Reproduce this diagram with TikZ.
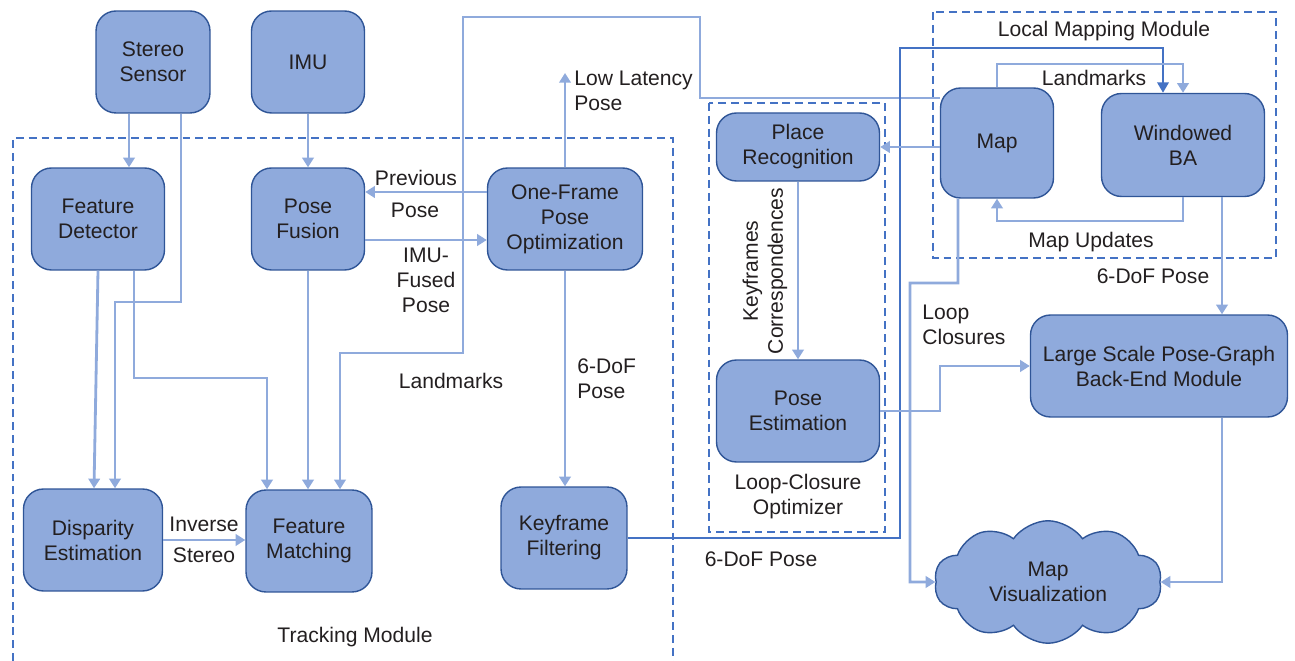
\documentclass[tikz,border=0pt]{standalone}
\usepackage{fontspec}
\setmainfont{Liberation Sans}
\usetikzlibrary{arrows.meta,shapes.symbols}
\definecolor{cFill}{HTML}{8FAADC}
\definecolor{cEdge}{HTML}{2F5597}
\definecolor{cFlow}{HTML}{8FAADC}
\definecolor{cModule}{HTML}{4472C4}
\definecolor{cText}{HTML}{231F20}

\begin{document}
\begin{tikzpicture}[x=0.02cm, y=-0.02cm,
    blk/.style={draw=cEdge, line width=0.8pt, fill=cFill, rounded corners=0.4cm, minimum height=2.04cm,
        align=center, inner sep=2pt, text=cText, font=\fontsize{12}{14.2}\selectfont},
    vis/.style={cloud, cloud puffs=10, cloud puff arc=110, cloud ignores aspect, draw=cEdge, line width=0.8pt, fill=cFill,
        minimum width=4.55cm, minimum height=2.45cm, inner sep=0pt, align=center, text=cText, font=\fontsize{12}{14.2}\selectfont},
    lbl/.style={inner sep=0pt, align=center, text=cText, font=\fontsize{12}{14.2}\selectfont},
    flow/.style={draw=cFlow, line width=1.6pt, -{Triangle[length=5.5pt, width=6.5pt]}},
    main/.style={draw=cModule, line width=1.4pt, -{Triangle[length=6pt, width=6.5pt]}},
    module/.style={draw=cModule, line width=0.8pt, dash pattern=on 4.5pt off 2.8pt}
]
\useasboundingbox (0,0) rectangle (1295,661);

\draw[module] (13,661) -- (13,138) -- (673,138) -- (673,661);
\draw[module] (709,103) rectangle (885,532);
\draw[module] (933,12) rectangle (1276,258);

\node[blk, minimum width=2.28cm] (stereo) at (153,62) {Stereo\\Sensor};
\node[blk, minimum width=2.26cm] (imu) at (308,62) {IMU};
\node[blk, minimum width=2.66cm] (fdet) at (98,219) {Feature\\Detector};
\node[blk, minimum width=2.26cm] (pfus) at (308,219) {Pose\\Fusion};
\node[blk, minimum width=3.10cm] (ofpo) at (565,219) {One-Frame\\Pose\\Optimization};
\node[blk, minimum width=2.78cm] (disp) at (93,540) {Disparity\\Estimation};
\node[blk, minimum width=2.52cm] (fmat) at (309,541) {Feature\\Matching};
\node[blk, minimum width=2.52cm] (kff) at (564,538) {Keyframe\\Filtering};
\node[blk, minimum width=3.26cm, minimum height=1.36cm] (prec) at (798,147) {Place\\Recognition};
\node[blk, minimum width=3.26cm] (pest) at (798,411) {Pose\\Estimation};
\node[blk, minimum width=2.26cm, minimum height=2.2cm] (map) at (997,143) {Map};
\node[blk, minimum width=3.26cm, minimum height=2.06cm] (wba) at (1183,145) {Windowed\\BA};
\node[blk, minimum width=5.14cm] (lspg) at (1159,366) {Large Scale Pose-Graph\\Back-End Module};
\node[vis] (mvis) at (1048,582) {Map\\Visualization};
\coordinate (llp) at (565,73);

\node[lbl] (trk) at (355,637) {Tracking Module};
\node[lbl] (lco) at (798,497) {Loop-Closure\\Optimizer};
\node[lbl] (lmm) at (1104,31) {Local Mapping Module};
\node[lbl] (prev1) at (416,178) {Previous};
\node[lbl] (prev2) at (415,210) {Pose};
\node[lbl] (imuf) at (426,280) {IMU-\\Fused\\Pose};
\node[lbl, anchor=west, align=left] (llpl) at (574,91) {Low Latency\\Pose};
\node[lbl, anchor=west, align=left] (dof1) at (577,379) {6-DoF\\Pose};
\node[lbl] (lmk1) at (451,381) {Landmarks};
\node[lbl] (inv1) at (204,524) {Inverse};
\node[lbl] (inv2) at (204,555) {Stereo};
\node[lbl, rotate=90] (kfc) at (765,271) {Keyframes\\Correspondences};
\node[lbl] (dof2) at (761,559) {6-DoF Pose};
\node[lbl] (lmk2) at (1094,78) {Landmarks};
\node[lbl] (mupd) at (1091,242) {Map Updates};
\node[lbl] (dof3) at (1153,276) {6-DoF Pose};
\node[lbl, anchor=west, align=left] (lpc) at (922,325) {Loop\\Closures};

\draw[flow] (stereo.south -| 129,0) -- (fdet.north -| 129,0);
\draw[flow] (stereo.south -| 181,0) -- (181,302) -| (disp.north -| 115,0);
\draw[flow] (fdet.south) -- (disp.north -| 94,0);
\draw[flow] (fdet.south -| 134,0) -- (134,378) -| (fmat.north -| 267,0);
\draw[flow] (imu) -- (pfus);
\draw[flow] (pfus.south) -- (fmat.north -| pfus.south);
\draw[flow] (ofpo.west |- 0,192) -- (pfus.east |- 0,192);
\draw[flow] (pfus.east |- 0,240) -- (ofpo.west |- 0,240);
\draw[flow] (ofpo.north) -- (llp);
\draw[flow] (ofpo.south) -- (kff.north -| ofpo.south);
\draw[flow] (disp.east) -- (fmat.west |- disp.east);
\draw[flow] (map.west |- 0,98) -- (700,98) -- (700,17) -| (463,353) -| (fmat.north -| 340,0);
\draw[main] (kff.east) -| (900,48) -| (wba.north -| 1163,0);
\draw[flow] (map.west |- prec.east) -- (prec.east);
\draw[flow] (prec.south) -- (pest.north);
\draw[flow] (pest.east) -- (940,411) |- (lspg.west);
\draw[flow] (map.north) |- (1100,64) -| (wba.north);
\draw[flow] (wba.south) |- (1100,221) -| (map.south);
\draw[flow] (wba.south -| 1222,0) -- (lspg.north -| 1222,0);
\draw[flow] (map.south -| 958,0) -- (958,283) -| (910,582) -- (mvis.west);
\draw[flow] (lspg.south -| 1222,0) |- (mvis.east);

\end{tikzpicture}
\end{document}
